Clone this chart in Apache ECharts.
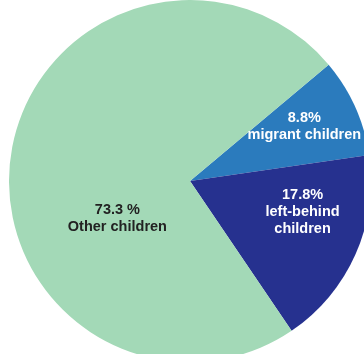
<!DOCTYPE html>
<html>
<head>
<meta charset="utf-8">
<script src="https://cdn.jsdelivr.net/npm/echarts@6/dist/echarts.min.js"></script>
<style>
  html, body { margin: 0; padding: 0; background: #fff; }
  #chart { width: 364px; height: 354px; }
</style>
</head>
<body>
<div id="chart"></div>
<script>
  // shares of children, in percent
  let names = ['migrant children', 'left-behind children', 'Other children'];
  let labels = ['8.8%\nmigrant children', '17.8%\nleft-behind\nchildren', '73.3 %\nOther children'];
  let values = [8.8, 17.8, 73.3];

  let colors = ['#2b7bbd', '#26318f', '#a3d9b7'];
  let textColors = ['#ffffff', '#ffffff', '#222222'];
  // nudge the inside labels to where the original has them
  let nudges = [[29, -16], [27, -7], [20, 50]];

  let myChart = echarts.init(document.getElementById('chart'));

  let data = values.map(function (v, i) {
    return {
      name: names[i],
      value: v,
      itemStyle: { color: colors[i] },
      label: { formatter: labels[i], color: textColors[i] }
    };
  });

  let option = {
    animation: false,
    series: [{
      type: 'pie',
      center: [190, 181],
      radius: [0, 181],
      startAngle: 40,
      clockwise: true,
      avoidLabelOverlap: false,
      itemStyle: { borderWidth: 0 },
      label: {
        show: true,
        position: 'inside',
        fontFamily: 'Liberation Sans, Arial, sans-serif',
        fontWeight: 'bold',
        fontSize: 14.5,
        lineHeight: 17,
        align: 'center'
      },
      labelLine: { show: false },
      labelLayout: function (params) {
        let n = nudges[params.dataIndex];
        return { dx: n[0], dy: n[1] };
      },
      emphasis: { disabled: true },
      data: data
    }]
  };
  myChart.setOption(option);
</script>
</body>
</html>
